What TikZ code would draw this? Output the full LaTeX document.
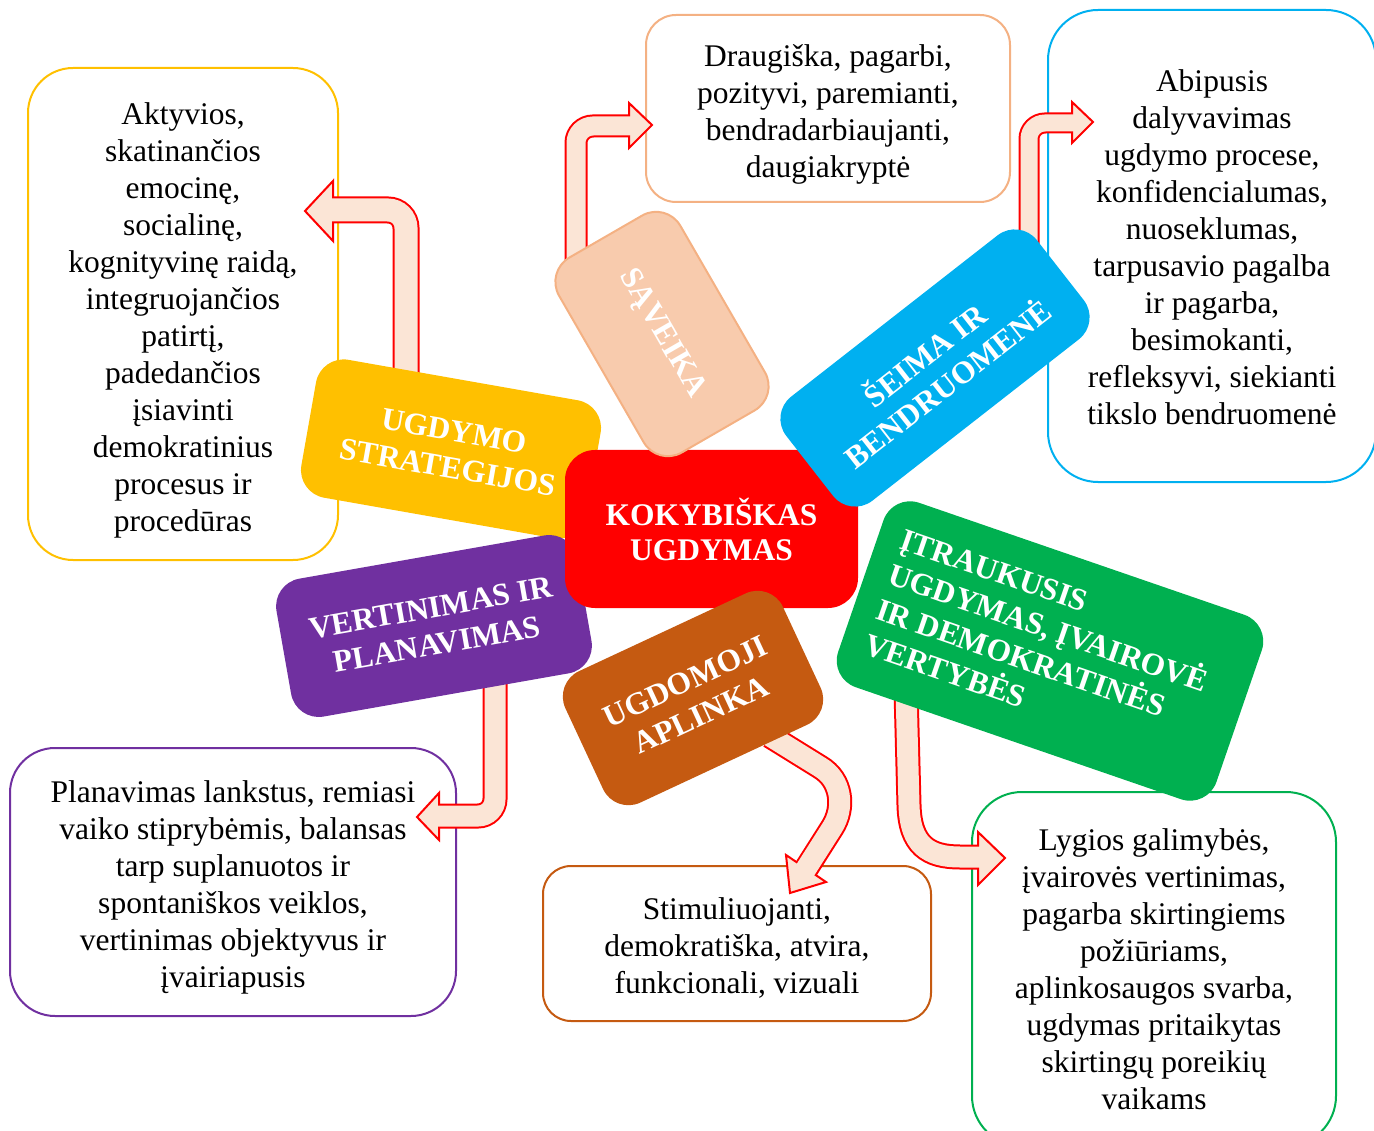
\documentclass[tikz,border=0pt]{standalone}
\usepackage{fontspec}
\setmainfont{Liberation Serif}
\definecolor{cY}{HTML}{FFC000}
\definecolor{cP}{HTML}{F4B183}
\definecolor{cPf}{HTML}{F8CBAD}
\definecolor{cB}{HTML}{00B0F0}
\definecolor{cV}{HTML}{7030A0}
\definecolor{cBr}{HTML}{C55A11}
\definecolor{cG}{HTML}{00B050}
\definecolor{cR}{HTML}{FF0000}
\definecolor{afill}{HTML}{FBE5D6}
\tikzset{
  cbox/.style={draw, line width=2pt, fill=white, rounded corners=#1, inner sep=0pt},
  ctext/.style={align=center, inner sep=0pt, font=\fontsize{31.5}{37}\selectfont},
  lbl/.style={fill=#1, rounded corners=28pt, align=center, inner sep=0pt, text=white,
    font=\fontsize{31.5}{37}\selectfont\bfseries},
  aout/.style={draw=red, line width=#1},
  ain/.style={draw=afill, line width=#1},
  ahead/.style={draw=red, fill=afill, line width=2pt, line join=miter}
}
\begin{document}
\begin{tikzpicture}[x=1pt,y=-1pt]
\useasboundingbox (0,0) rectangle (1374,1131);

% ---------- content boxes ----------
\node[cbox=45pt, draw=cY, minimum width=310pt, minimum height=492pt] (bY) at (183,314) {};
\node[ctext] (tY) at ([yshift=-6pt]bY.center)
 {Aktyvios,\\skatinančios\\emocinę,\\socialinę,\\kognityvinę raidą,\\integruojančios\\patirtį,\\padedančios\\įsiavinti\\demokratinius\\procesus ir\\procedūras};
\node[cbox=30pt, draw=cP, minimum width=364pt, minimum height=187pt] (bP) at (828,108.5) {};
\node[ctext] (tP) at ([yshift=-6pt]bP.center)
 {Draugiška, pagarbi,\\pozityvi, paremianti,\\bendradarbiaujanti,\\daugiakryptė};
\node[cbox=50pt, draw=cB, minimum width=328pt, minimum height=472pt] (bB) at (1212,246) {};
\node[ctext] (tB) at ([yshift=-1pt]bB.center)
 {Abipusis\\dalyvavimas\\ugdymo procese,\\konfidencialumas,\\nuoseklumas,\\tarpusavio pagalba\\ir pagarba,\\besimokanti,\\refleksyvi, siekianti\\tikslo bendruomenė};
\node[cbox=45pt, draw=cV, minimum width=446pt, minimum height=268pt] (bV) at (233,882) {};
\node[ctext] (tV) at ([yshift=-5pt]bV.center)
 {Planavimas lankstus, remiasi\\vaiko stiprybėmis, balansas\\tarp suplanuotos ir\\spontaniškos veiklos,\\vertinimas objektyvus ir\\įvairiapusis};
\node[cbox=28pt, draw=cBr, minimum width=388pt, minimum height=155pt] (bBr) at (737,943.5) {};
\node[ctext] (tBr) at ([yshift=-4pt]bBr.center)
 {Stimuliuojanti,\\demokratiška, atvira,\\funkcionali, vizuali};
\node[cbox=50pt, draw=cG, minimum width=364pt, minimum height=354pt] (bG) at (1154,969) {};
\node[ctext] (tG) at (bG.center)
 {Lygios galimybės,\\įvairovės vertinimas,\\pagarba skirtingiems\\požiūriams,\\aplinkosaugos svarba,\\ugdymas pritaikytas\\skirtingų poreikių\\vaikams};

% ---------- arrow coordinates ----------
\coordinate (a1s) at (406,380); \coordinate (a1c) at (406,210); \coordinate (a1e) at (333,210);
\coordinate (a2s) at (576,290); \coordinate (a2c) at (576,126); \coordinate (a2e) at (629,126);
\coordinate (a3s) at (1029,250); \coordinate (a3c) at (1029,123); \coordinate (a3e) at (1072,123);
\coordinate (a4s) at (495,680); \coordinate (a4c) at (495,816); \coordinate (a4e) at (439,816);

% arrow 1 (to left, yellow)
\draw[aout=27pt, rounded corners=18pt] (a1s) -- (a1c) -- (a1e);
\draw[ahead] (333,181) -- (305,211) -- (333,241) -- cycle;
\draw[ain=23pt, rounded corners=18pt] (a1s) -- (a1c) -- ([xshift=-3pt]a1e);

% arrow 2 (to right, saveika)
\draw[aout=23pt, rounded corners=17pt] (a2s) -- (a2c) -- (a2e);
\draw[ahead] (629,103) -- (652,125) -- (629,148) -- cycle;
\draw[ain=19pt, rounded corners=17pt] (a2s) -- (a2c) -- ([xshift=3pt]a2e);

% arrow 3 (to right, family)
\draw[aout=21pt, rounded corners=16pt] (a3s) -- (a3c) -- (a3e);
\draw[ahead] (1072,102) -- (1093,122) -- (1072,143) -- cycle;
\draw[ain=17pt, rounded corners=16pt] (a3s) -- (a3c) -- ([xshift=3pt]a3e);

% arrow 4 (to left, planning)
\draw[aout=25pt, rounded corners=17pt] (a4s) -- (a4c) -- (a4e);
\draw[ahead] (439,793) -- (417,817) -- (439,840) -- cycle;
\draw[ain=21pt, rounded corners=17pt] (a4s) -- (a4c) -- ([xshift=-3pt]a4e);

% arrow 5 (curved, environment)
\coordinate (a5s) at (770,736); \coordinate (a5e) at (806,869);
\draw[aout=25pt] (a5s) -- (820,767) .. controls (842,780) and (845,808) .. (832,828) -- (a5e);
\draw[ahead] (786,855) -- (790,893) -- (826,882) -- cycle;
\draw[ain=21pt] (a5s) -- (820,767) .. controls (842,780) and (845,808) .. (832,828) -- (804.3,871.5);

% arrow 6 (curved, inclusive)
\coordinate (a6s) at (906,690); \coordinate (a6e) at (978,857);
\draw[aout=25pt] (a6s) -- (909,805) .. controls (910,845) and (928,857) .. (960,857) -- (a6e);
\draw[ahead] (978,832) -- (1005,858) -- (978,885) -- cycle;
\draw[ain=21pt] (a6s) -- (909,805) .. controls (910,845) and (928,857) .. (960,857) -- (981,857);

% ---------- labels ----------
\node[lbl=cY, minimum width=289pt, minimum height=140pt, rotate=-10] (lY) at (451,449) {UGDYMO\\STRATEGIJOS};
\node[lbl=cV, minimum width=305pt, minimum height=140pt, rotate=10] (lV) at (434,626) {VERTINIMAS IR\\PLANAVIMAS};
\node[lbl=cR, minimum width=293pt, minimum height=158pt, rounded corners=30pt,
  font=\fontsize{31.5}{35}\selectfont\bfseries] (lR) at (711.5,529) {KOKYBIŠKAS\\UGDYMAS};
\node[lbl=cPf, draw=cP, line width=2pt, minimum width=225pt, minimum height=140pt, rotate=-60] (lP) at (662,334) {SĄVEIKA};
\node[lbl=cG, minimum width=400pt, minimum height=195pt, rotate=-19] (lG) at (1050,651) {};
\node[lbl=none, rotate=-19, align=left] (tGl) at ([xshift=-8pt,yshift=5pt]lG.center)
 {ĮTRAUKUSIS\\UGDYMAS, ĮVAIROVĖ\\IR DEMOKRATINĖS\\VERTYBĖS};
\node[lbl=cB, minimum width=318pt, minimum height=132pt, rotate=38] (lB) at (935,368) {ŠEIMA IR\\BENDRUOMENĖ};
\node[lbl=cBr, minimum width=240pt, minimum height=145pt, rotate=25] (lBr) at (693,698) {UGDOMOJI\\APLINKA};
\end{tikzpicture}
\end{document}
